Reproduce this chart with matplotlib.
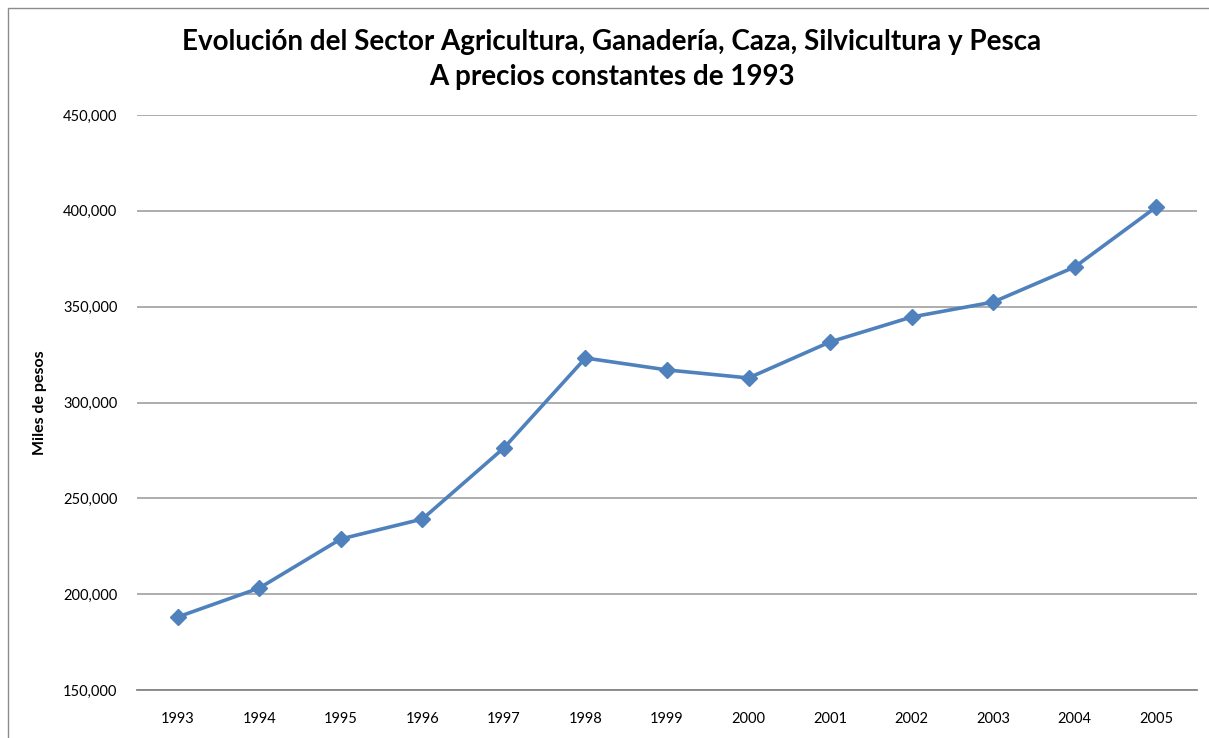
import matplotlib
matplotlib.use("Agg")
import matplotlib.pyplot as plt
from matplotlib.patches import Rectangle
from matplotlib.ticker import FuncFormatter

years = ["1993", "1994", "1995", "1996", "1997", "1998", "1999",
         "2000", "2001", "2002", "2003", "2004", "2005"]
values = [188100, 203200, 228800, 239200, 276300, 323200, 317000,
          312800, 331600, 344600, 352400, 370700, 402000]

plt.rcParams['font.family'] = ['Lato', 'DejaVu Sans']

fig = plt.figure(figsize=(12.09, 7.38), dpi=100)
ax = fig.add_axes([137/1209, 1 - 690/738, (1197-137)/1209, (690-115)/738])

x = list(range(len(years)))
ax.plot(x, values, color="#4F81BD", linewidth=2.6, marker="D", markersize=8,
        zorder=3, solid_joinstyle="round")

ax.set_xlim(-0.5, len(years) - 0.5)
ax.set_ylim(150000, 450000)
ax.set_yticks(range(150000, 450001, 50000))
ax.yaxis.set_major_formatter(FuncFormatter(lambda v, p: f"{int(v):,}"))
ax.set_xticks(x)
ax.set_xticklabels(years)
ax.tick_params(axis="both", length=0, labelsize=10.5, colors="black")
ax.tick_params(axis="x", pad=16)
ax.tick_params(axis="y", pad=14)
ax.grid(axis="y", color="#A0A0A0", linewidth=1.2)
ax.set_axisbelow(True)
for s in ["top", "right", "left"]:
    ax.spines[s].set_visible(False)
ax.spines["bottom"].set_color("#868686")
ax.spines["bottom"].set_linewidth(1.3)

fig.text(40/1209, 1 - 403/738, "Miles de pesos", rotation=90,
         ha="center", va="center", fontsize=11.5, fontweight="bold")

fig.text(612/1209, 1 - 42/738, "Evolución del Sector Agricultura, Ganadería, Caza, Silvicultura y Pesca",
         ha="center", va="center", fontsize=20, fontweight="bold")
fig.text(612/1209, 1 - 77/738, "A precios constantes de 1993",
         ha="center", va="center", fontsize=20, fontweight="bold")

fig.patches.append(Rectangle((8/1209, -0.05), 1.2, 1 - 8/738 + 0.05,
                             transform=fig.transFigure, fill=False,
                             edgecolor="#8C8C8C", linewidth=1.0))

fig.savefig("out.png", dpi=100)
